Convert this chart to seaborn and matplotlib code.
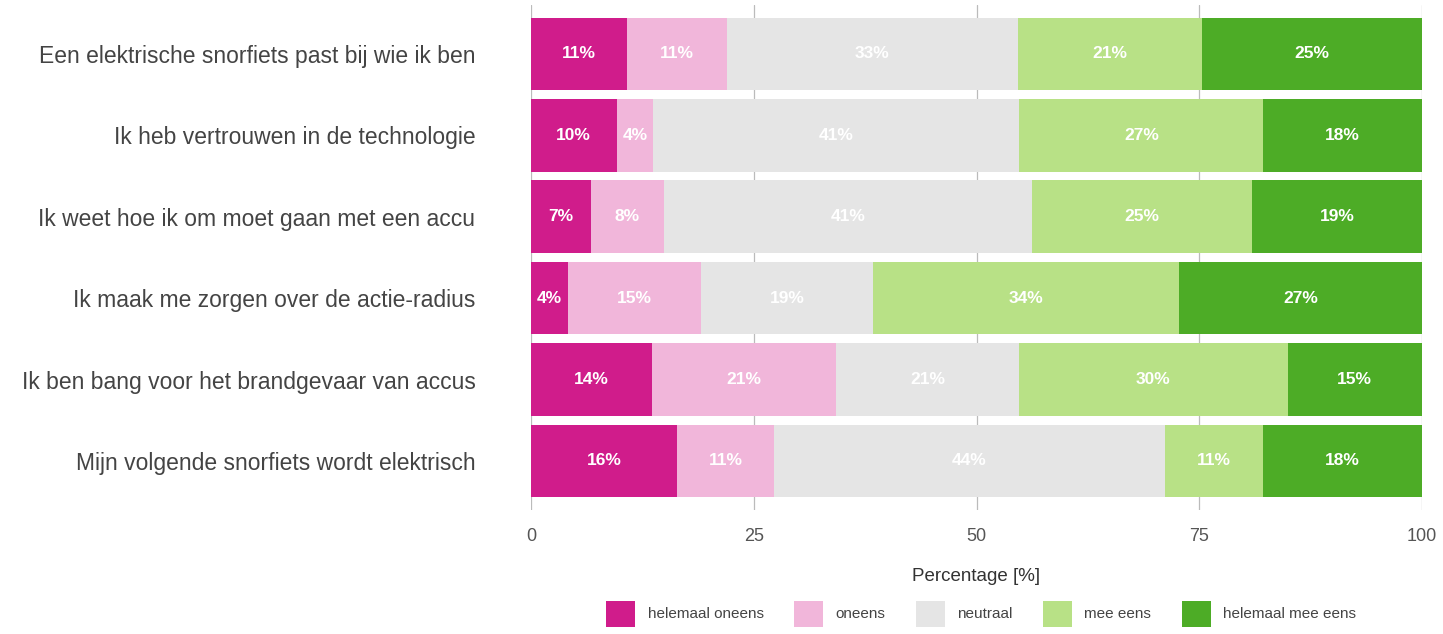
import matplotlib
matplotlib.use("Agg")
import matplotlib.pyplot as plt
from matplotlib.patches import Patch
import numpy as np
import pandas as pd
import seaborn as sns

statements = [
    "Een elektrische snorfiets past bij wie ik ben",
    "Ik heb vertrouwen in de technologie",
    "Ik weet hoe ik om moet gaan met een accu",
    "Ik maak me zorgen over de actie-radius",
    "Ik ben bang voor het brandgevaar van accus",
    "Mijn volgende snorfiets wordt elektrisch",
]
levels = ["helemaal oneens", "oneens", "neutraal", "mee eens", "helemaal mee eens"]

helemaal_oneens = [10.8, 9.6, 6.7, 4.1, 13.6, 16.4]
oneens = [11.2, 4.1, 8.2, 15.0, 20.6, 10.9]
neutraal = [32.6, 41.1, 41.3, 19.3, 20.6, 43.8]
mee_eens = [20.7, 27.4, 24.7, 34.3, 30.1, 11.1]
helemaal_mee_eens = [24.7, 17.8, 19.1, 27.3, 15.1, 17.8]

palette = ["#d01c8b", "#f1b6da", "#e5e5e5", "#b8e186", "#4dac26"]

series = [helemaal_oneens, oneens, neutraal, mee_eens, helemaal_mee_eens]
df = pd.DataFrame({lvl: vals for lvl, vals in zip(levels, series)})
df.insert(0, "stelling", statements)
cum = df[levels].cumsum(axis=1)

sns.set_theme(style="white")
plt.rcParams["font.family"] = ["Liberation Sans", "DejaVu Sans"]

fig = plt.figure(figsize=(14.43, 6.34), dpi=100)
ax = fig.add_axes([0.368, 0.196, 0.6175, 0.796])

# stacked bars: draw cumulative totals from the right-most level backwards
for lvl, col in reversed(list(zip(levels, palette))):
    sns.barplot(x=cum[lvl], y=df["stelling"], color=col, orient="h",
                width=0.89, ax=ax, saturation=1, zorder=2,
                edgecolor="none", linewidth=0)

# percentage labels in the middle of each segment
for i in range(len(statements)):
    start = 0.0
    for lvl in levels:
        v = df.loc[i, lvl]
        ax.text(start + v / 2, i, f"{v:.0f}%", ha="center", va="center",
                color="white", fontsize=12.5, fontweight="bold", zorder=3)
        start += v

ax.set_xlim(0, 100)
ax.set_ylim(5.6, -0.6)
ax.set_xticks([0, 25, 50, 75, 100])
ax.set_xticklabels(["0", "25", "50", "75", "100"])
ax.xaxis.grid(True, color="#bbbbbb", linewidth=0.9, zorder=0)
ax.yaxis.grid(False)
ax.set_axisbelow(True)
for s in ax.spines.values():
    s.set_visible(False)
ax.tick_params(axis="x", length=0, labelsize=13, labelcolor="#555555", pad=13)
ax.tick_params(axis="y", length=0, labelsize=16.5, labelcolor="#444444", pad=40)
ax.set_ylabel("")
ax.set_xlabel("Percentage [%]", fontsize=13.5, color="#333333", labelpad=17)

handles = [Patch(facecolor=c, edgecolor="none", label=l) for l, c in zip(levels, palette)]
fig.legend(handles=handles, loc="center", bbox_to_anchor=(0.68, 0.032), ncol=5,
           frameon=False, fontsize=11, handlelength=1.9, handleheight=2.2,
           handletextpad=0.8, columnspacing=2.0, labelcolor="#444444")

fig.savefig("out.png", dpi=100, facecolor="white")
